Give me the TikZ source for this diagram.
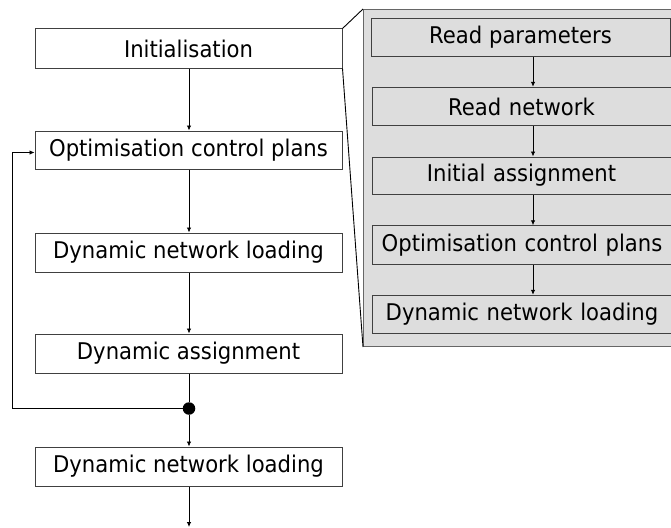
\documentclass[tikz,border=0pt]{standalone}
\usepackage{fontspec}
\setmainfont{DejaVu Sans}[FakeStretch=0.92]
\usetikzlibrary{arrows.meta}
\definecolor{panelgray}{HTML}{DDDDDD}
\definecolor{edge}{HTML}{404040}
\tikzset{
  box/.style={draw=edge, line width=1pt, fill=white, inner sep=0pt,
    minimum width=307pt, minimum height=39pt, font=\fontsize{23}{26}\selectfont},
  inbox/.style={draw=edge, line width=1pt, fill=panelgray, inner sep=0pt,
    minimum height=38.5pt, font=\fontsize{23}{26}\selectfont},
  widebox/.style={inbox, minimum width=310pt, text width=300pt, align=center},
  panelbox/.style={draw=edge!80, line width=1pt, fill=panelgray, inner sep=0pt},
  flow/.style={line width=0.8pt, draw=black, -{Latex[length=5pt,width=4.5pt]}},
  zoomline/.style={line width=0.9pt, draw=black}
}
\begin{document}
\begin{tikzpicture}[x=1pt,y=-1pt]
\useasboundingbox (0,0) rectangle (671,527);
\clip (0,0) rectangle (671,527);
\fill[white] (0,0) rectangle (671,527);
% left column
\node[box] (init) at (188.5,48.5) {Initialisation};
\node[box, minimum height=38pt] (opt) at (188.5,150) {Optimisation control plans};
\node[box] (dnl1) at (188.5,252.5) {Dynamic network loading};
\node[box] (da) at (188.5,353.5) {Dynamic assignment};
\node[box] (dnl2) at (188.5,466.5) {Dynamic network loading};
\node[circle, fill=black, inner sep=0pt, minimum size=12.5pt] (j) at (189,408.5) {};
\coordinate (loopx) at (12,408.5);
\coordinate (endpt) at (189,527);
% panel
\node[panelbox, anchor=north west, minimum width=330pt, minimum height=337pt] (panel) at (363,9) {};
\node[inbox, minimum width=299pt] (rp) at (520.5,37.5) {Read parameters};
\node[widebox] (rn) at (527,106.5) {\hspace*{-11pt}Read network};
\node[widebox, minimum height=37pt] (ia) at (527,175.5) {\hspace*{-11pt}Initial assignment};
\node[widebox] (oc) at (527,245) {\hspace*{-10pt}Optimisation control plans};
\node[widebox] (dn) at (527,314.5) {\hspace*{-10pt}Dynamic network loading};
% zoom lines
\draw[zoomline] (init.north east) -- (panel.north west);
\draw[zoomline] (init.south east) -- (panel.south west);
% left flow
\draw[flow] (init.south -| 189,0) -- (opt.north -| 189,0);
\draw[flow] (opt.south -| 189,0) -- (dnl1.north -| 189,0);
\draw[flow] (dnl1.south -| 189,0) -- (da.north -| 189,0);
\draw[line width=0.8pt] (da.south -| 189,0) -- (j);
\draw[flow] (j) -- (dnl2.north -| 189,0);
\draw[flow] (j) -- (loopx) |- ([yshift=-2.5pt]opt.west);
\draw[flow] (dnl2.south -| 189,0) -- (endpt);
% panel flow
\draw[flow] (rp.south -| 533,0) -- (rn.north -| 533,0);
\draw[flow] (rn.south -| 533,0) -- (ia.north -| 533,0);
\draw[flow] (ia.south -| 533,0) -- (oc.north -| 533,0);
\draw[flow] (oc.south -| 533,0) -- (dn.north -| 533,0);
\end{tikzpicture}
\end{document}
